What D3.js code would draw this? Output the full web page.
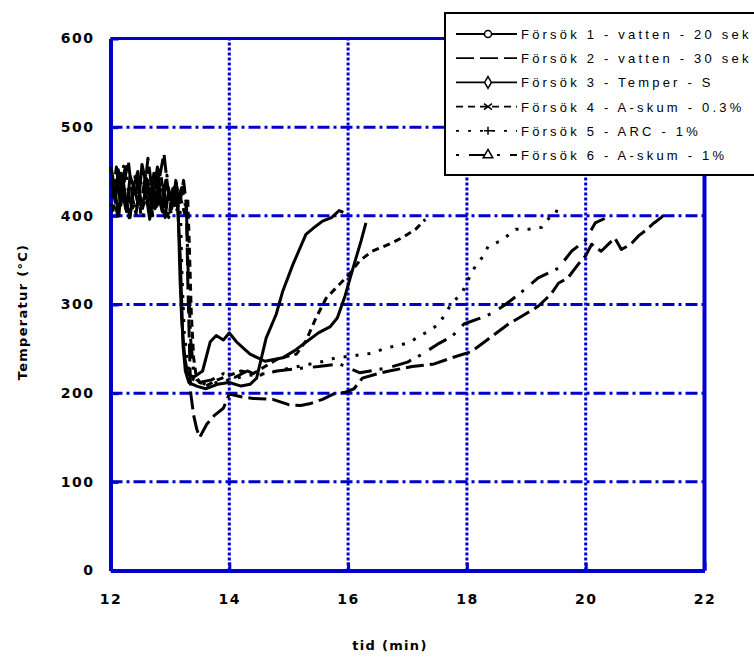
<!DOCTYPE html>
<html><head><meta charset="utf-8">
<script src="https://cdn.jsdelivr.net/npm/d3@7"></script>
<style>body{margin:0;background:#fff;} svg{display:block;}</style>
</head><body><svg id="c" width="754" height="658"></svg>
<script>
const xTicks = [12, 14, 16, 18, 20, 22];
const yTicks = [0, 100, 200, 300, 400, 500, 600];
const seriesNames = [
  "Försök 1 - vatten - 20 sek",
  "Försök 2 - vatten - 30 sek",
  "Försök 3 - Temper - S",
  "Försök 4 - A-skum - 0.3%",
  "Försök 5 - ARC - 1%",
  "Försök 6 - A-skum - 1%"
];
const xTitle = "tid (min)";
const yTitle = "Temperatur (°C)";

// [time (min), temperature (°C)]
const forsok1 = [[12.02,440],[12.08,415],[12.13,452],[12.2,425],[12.27,405],[12.33,445],[12.4,430],[12.47,412],[12.53,458],[12.6,436],[12.67,418],[12.73,448],[12.8,425],[12.87,405],[12.93,440],[13.0,420],[13.07,432],[13.13,410],[13.17,360],[13.2,300],[13.22,255],[13.26,225],[13.32,212],[13.45,208],[13.6,205],[13.8,210],[14.0,212],[14.2,208],[14.35,210],[14.46,217],[14.62,262],[14.79,289],[14.9,315],[15.07,345],[15.29,379],[15.45,388],[15.57,394],[15.72,398],[15.85,406],[15.92,404]];
const forsok2 = [[12.03,420],[12.1,455],[12.17,410],[12.23,438],[12.3,462],[12.37,420],[12.43,402],[12.5,440],[12.57,425],[12.63,465],[12.7,430],[12.77,410],[12.83,445],[12.9,470],[12.97,428],[13.03,408],[13.1,438],[13.17,415],[13.23,440],[13.28,410],[13.3,330],[13.33,250],[13.35,200],[13.4,175],[13.45,160],[13.5,150],[13.62,165],[13.75,175],[13.9,183],[14.0,199],[14.2,196],[14.4,194],[14.73,193],[15.0,187],[15.2,186],[15.35,188],[15.57,193],[15.75,199],[15.95,201],[16.1,205],[16.24,217],[16.5,222],[16.69,225],[17.08,230],[17.45,233],[17.75,240],[18.08,247],[18.3,258],[18.48,267],[18.7,278],[18.98,289],[19.2,298],[19.42,312],[19.54,324],[19.7,330],[19.87,345],[20.0,355],[20.1,368],[20.26,360],[20.49,375],[20.6,362],[20.76,368],[20.9,378],[21.0,383],[21.15,392],[21.27,398],[21.32,402]];
const forsok3 = [[12.01,455],[12.07,430],[12.14,400],[12.2,446],[12.26,418],[12.33,398],[12.39,434],[12.46,450],[12.52,408],[12.59,428],[12.66,396],[12.72,422],[12.79,455],[12.85,415],[12.92,398],[12.98,430],[13.05,412],[13.1,440],[13.13,425],[13.15,380],[13.17,330],[13.2,280],[13.25,240],[13.3,222],[13.4,218],[13.55,225],[13.68,258],[13.78,265],[13.9,260],[14.0,268],[14.12,258],[14.25,250],[14.35,244],[14.6,236],[14.9,240],[15.1,248],[15.3,258],[15.5,268],[15.7,275],[15.82,285],[15.95,310],[16.1,345],[16.22,372],[16.3,392]];
const forsok4 = [[12.04,405],[12.11,432],[12.18,448],[12.24,412],[12.31,398],[12.38,426],[12.44,444],[12.51,402],[12.58,418],[12.64,440],[12.71,400],[12.78,435],[12.84,452],[12.91,412],[12.98,398],[13.04,425],[13.11,405],[13.18,420],[13.25,402],[13.3,420],[13.33,360],[13.36,290],[13.4,240],[13.45,215],[13.6,208],[13.8,215],[14.0,220],[14.2,225],[14.4,222],[14.6,230],[14.8,238],[15.0,242],[15.13,244],[15.29,259],[15.46,285],[15.63,307],[15.8,319],[16.02,334],[16.19,349],[16.4,360],[16.69,368],[16.9,375],[17.14,385],[17.3,396]];
const forsok5 = [[12.02,410],[12.09,440],[12.15,422],[12.22,456],[12.29,432],[12.35,410],[12.42,448],[12.49,425],[12.55,400],[12.62,452],[12.69,430],[12.75,408],[12.82,438],[12.88,418],[12.95,446],[13.02,402],[13.09,428],[13.15,415],[13.18,400],[13.2,340],[13.24,270],[13.3,230],[13.4,215],[13.6,210],[13.8,212],[14.0,215],[14.3,220],[14.6,222],[15.0,228],[15.3,232],[15.6,236],[15.8,240],[16.07,242],[16.4,245],[16.64,251],[16.86,254],[17.03,257],[17.19,264],[17.36,270],[17.53,278],[17.75,302],[17.91,312],[18.03,329],[18.14,343],[18.28,355],[18.36,366],[18.58,372],[18.82,385],[19.05,385],[19.26,387],[19.48,406],[19.59,403]];
const forsok6 = [[12.05,425],[12.12,400],[12.19,436],[12.25,455],[12.32,420],[12.39,404],[12.45,438],[12.52,416],[12.59,446],[12.65,405],[12.72,428],[12.79,412],[12.86,442],[12.92,420],[12.99,400],[13.06,436],[13.13,418],[13.2,432],[13.28,405],[13.31,330],[13.35,260],[13.4,225],[13.5,212],[13.7,215],[13.9,222],[14.1,218],[14.3,225],[14.5,220],[14.8,225],[15.2,228],[15.5,230],[15.85,233],[16.2,223],[16.7,229],[17.0,235],[17.25,244],[17.5,255],[17.75,264],[17.95,278],[18.2,284],[18.42,290],[18.65,300],[18.9,313],[19.2,330],[19.54,341],[19.76,360],[19.99,372],[20.16,392],[20.32,397]];

const allSeries = [forsok1, forsok2, forsok3, forsok4, forsok5, forsok6];
const dashes = [null, "18,6", null, "7,5", "3,9", "3,10,20,8"];
const markers = ["circle", "none", "diamond", "cross", "plus", "triangle"];

const svg = d3.select("#c");
const blue = "#0000cc";
const x = d3.scaleLinear().domain([12, 22]).range([110.5, 704.5]);
const y = d3.scaleLinear().domain([0, 600]).range([570.5, 38.5]);

// grid lines
svg.append("g").selectAll("line").data(yTicks.filter(v => v > 0 && v < 600)).join("line")
  .attr("x1", x(12)).attr("x2", x(22)).attr("y1", d => y(d)).attr("y2", d => y(d))
  .attr("stroke", blue).attr("stroke-width", 3).attr("stroke-dasharray", "12,4,3,4");
svg.append("g").selectAll("line").data(xTicks.filter(v => v > 12 && v < 22)).join("line")
  .attr("x1", d => x(d)).attr("x2", d => x(d)).attr("y1", y(0)).attr("y2", y(600))
  .attr("stroke", blue).attr("stroke-width", 3).attr("stroke-dasharray", "3,2");

// axes
const fontTick = "'DejaVu Sans', sans-serif";
const yAxis = svg.append("g").attr("transform", `translate(${x(12)},0)`)
  .call(d3.axisLeft(y).tickValues(yTicks).tickSizeInner(-8).tickSizeOuter(0).tickPadding(16));
const xAxis = svg.append("g").attr("transform", `translate(0,${y(0)})`)
  .call(d3.axisBottom(x).tickValues(xTicks).tickSizeInner(-8).tickSizeOuter(0).tickPadding(24));
[yAxis, xAxis].forEach(g => {
  g.select(".domain").attr("stroke", blue).attr("stroke-width", 4);
  g.selectAll(".tick line").attr("stroke", blue).attr("stroke-width", 3);
  g.selectAll(".tick text").attr("fill", "#000").style("font-family", fontTick)
    .style("font-size", "14px").style("font-weight", "bold").style("letter-spacing", "1.5px");
});
// frame top & right
svg.append("line").attr("x1", x(12)).attr("x2", x(22)).attr("y1", y(600)).attr("y2", y(600))
  .attr("stroke", blue).attr("stroke-width", 3);
svg.append("line").attr("x1", x(22)).attr("x2", x(22)).attr("y1", y(600)).attr("y2", y(0))
  .attr("stroke", blue).attr("stroke-width", 4);

// data lines
const line = d3.line().x(d => x(d[0])).y(d => y(d[1]));
allSeries.forEach((s, i) => {
  svg.append("path").datum(s).attr("d", line).attr("fill", "none")
    .attr("stroke", "#000").attr("stroke-width", 3)
    .attr("stroke-linejoin", "round")
    .attr("stroke-dasharray", dashes[i]);
});

// axis titles
svg.append("text").attr("x", 390).attr("y", 650).attr("text-anchor", "middle")
  .style("font-family", fontTick).style("font-size", "13px").style("font-weight", "bold")
  .style("letter-spacing", "1.3px").text(xTitle);
svg.append("text").attr("transform", "translate(27,312) rotate(-90)").attr("text-anchor", "middle")
  .style("font-family", fontTick).style("font-size", "13px").style("font-weight", "bold")
  .style("letter-spacing", "1.3px").text(yTitle);

// legend
const lg = svg.append("g");
lg.append("rect").attr("x", 445).attr("y", 13).attr("width", 330).attr("height", 162)
  .attr("fill", "#fff").attr("stroke", "#000").attr("stroke-width", 2);
seriesNames.forEach((name, i) => {
  const cy = 34 + i * 24.2;
  lg.append("line").attr("x1", 456).attr("x2", 517).attr("y1", cy).attr("y2", cy)
    .attr("stroke", "#000").attr("stroke-width", 1.8).attr("stroke-dasharray", dashes[i]);
  const mx = 488;
  const m = markers[i];
  if (m === "circle") {
    lg.append("circle").attr("cx", mx).attr("cy", cy).attr("r", 3.5).attr("fill", "#fff").attr("stroke", "#000").attr("stroke-width", 1.5);
  } else if (m === "diamond") {
    lg.append("path").attr("d", d3.symbol(d3.symbolDiamond, 40)()).attr("transform", `translate(${mx},${cy})`)
      .attr("fill", "#fff").attr("stroke", "#000").attr("stroke-width", 1.5);
  } else if (m === "cross") {
    lg.append("path").attr("d", `M${mx-4},${cy-3}L${mx+4},${cy+3}M${mx-4},${cy+3}L${mx+4},${cy-3}`)
      .attr("stroke", "#000").attr("stroke-width", 1.5).attr("fill", "none");
  } else if (m === "plus") {
    lg.append("path").attr("d", `M${mx-4},${cy}L${mx+4},${cy}M${mx},${cy-4}L${mx},${cy+4}`)
      .attr("stroke", "#000").attr("stroke-width", 1.5).attr("fill", "none");
  } else if (m === "triangle") {
    lg.append("path").attr("d", d3.symbol(d3.symbolTriangle, 40)()).attr("transform", `translate(${mx},${cy})`)
      .attr("fill", "#fff").attr("stroke", "#000").attr("stroke-width", 1.5);
  }
  lg.append("text").attr("x", 521).attr("y", cy + 5)
    .style("font-family", "'Liberation Sans', Arial, sans-serif").style("font-size", "13px")
    .style("letter-spacing", "3.2px").attr("fill", "#000").text(name);
});
</script>
</body></html>
